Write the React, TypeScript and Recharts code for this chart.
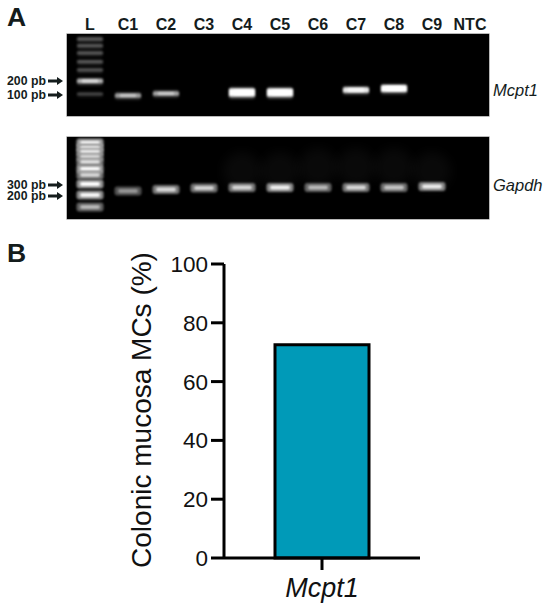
import React from "react";
import { ScatterChart, Scatter, XAxis, YAxis, BarChart, Bar } from "recharts";

const FONT = "'Liberation Sans', Arial, sans-serif";
const INK = "#141c1c";

const lanes = ["L", "C1", "C2", "C3", "C4", "C5", "C6", "C7", "C8", "C9", "NTC"];

const mcpt1Lanes = [1, 2, 4, 5, 7, 8];
const mcpt1Migration = [61.5, 59.5, 58.5, 58.5, 56, 54.5];
const mcpt1Brightness = [0.4, 0.42, 1, 1, 0.62, 0.8];
const mcpt1Ladder = [5, 11.7, 19, 27.7, 36, 47, 60];
const mcpt1LadderBrightness = [0.2, 0.18, 0.18, 0.18, 0.16, 0.45, 0.12];
const mcpt1MarkerAt = [47, 61];
const mcpt1MarkerText = ["200 pb", "100 pb"];

const gapdhLanes = [1, 2, 3, 4, 5, 6, 7, 8, 9];
const gapdhMigration = [54, 52.5, 51, 50.5, 50.5, 50.5, 50.5, 50.5, 49.5];
const gapdhBrightness = [0.25, 0.6, 0.55, 0.58, 0.75, 0.42, 0.6, 0.48, 0.72];
const gapdhLadder = [6, 11, 15, 20, 25, 32, 38, 47, 58, 70];
const gapdhLadderBrightness = [1, 0.9, 0.75, 0.6, 0.6, 1, 0.55, 0.85, 0.8, 0.4];
const gapdhHazeLanes = [4, 5, 6, 7, 8, 9];
const gapdhHazeAt = [34, 34, 30, 30, 30, 34];
const gapdhMarkerAt = [48, 59];
const gapdhMarkerText = ["300 pb", "200 pb"];

const barCategories = ["Mcpt1"];
const barValues = [72.5];
const yTicks = [0, 20, 40, 60, 80, 100];

const zip = (xs: number[], ys: number[], bs: number[]) =>
  xs.map((x, i) => ({ lane: x, migration: ys[i], brightness: bs[i] }));

const Band = (props: any) => {
  const { cx, cy, payload } = props;
  const b = payload.brightness;
  const w = 26;
  const h = 1.8 + 6.2 * b;
  const grey = Math.round(95 + 160 * Math.min(1, b * 1.4));
  return (
    <g>
      <rect x={cx - w / 2} y={cy - h / 2 - 1} width={w} height={h + 3} rx={2}
        fill="#fff" opacity={0.3 * (b + 0.2)} style={{ filter: "blur(1.6px)" }} />
      <rect x={cx - w / 2} y={cy - h / 2} width={w} height={h} rx={1.5}
        fill={`rgb(${grey},${grey},${grey})`} opacity={Math.min(1, 0.4 + b)} style={{ filter: "blur(0.9px)" }} />
      {b > 0.35 && (
        <rect x={cx - w * 0.32} y={cy - h * 0.25} width={w * 0.64} height={h * 0.5} rx={1}
          fill="#fff" opacity={Math.min(1, b + 0.2)} style={{ filter: "blur(1px)" }} />
      )}
    </g>
  );
};

const SoftBand = (props: any) => {
  const { cx, cy, payload } = props;
  const b = payload.brightness;
  return (
    <g>
      <rect x={cx - 13.5} y={cy - 4.5} width={27} height={9} rx={3}
        fill="#9a9a9a" opacity={0.35 + 0.7 * b} style={{ filter: "blur(1.3px)" }} />
      <rect x={cx - 10} y={cy - 2} width={20} height={4} rx={2}
        fill="#fff" opacity={Math.min(1, b + 0.15)} style={{ filter: "blur(1.2px)" }} />
    </g>
  );
};

const Haze = (props: any) => (
  <ellipse cx={props.cx} cy={props.cy} rx={19} ry={19} fill="#fff" opacity={0.035} style={{ filter: "blur(6px)" }} />
);

const MarkerTick = (labels: number[], texts: string[]) => (props: any) => {
  const { y, payload } = props;
  const t = texts[labels.indexOf(payload.value)];
  return (
    <g>
      <text x={7} y={y + 4.3} fontFamily={FONT} fontSize={12.3} fontWeight={700} fill={INK}>{t}</text>
      <path d={`M48 ${y - 1.6}H57V${y - 4}L63 ${y}L57 ${y + 4}V${y + 1.6}H48Z`} fill={INK} />
    </g>
  );
};

const Gel = (p: { top: number; lanesOn: boolean; bands: any[]; ladder: any[]; haze?: any[]; at: number[]; text: string[]; name: string; nameY: number; bandShape: any }) => (
  <>
    <div style={{ position: "absolute", left: 67, top: p.top + 34, width: 422, height: 82, background: "#000", boxShadow: "0 0 0 0.6px #8a8a8a" }} />
    <div style={{ position: "absolute", left: 0, top: p.top }}>
      <ScatterChart width={550} height={120} margin={{ top: p.lanesOn ? 0 : 34, right: 61, bottom: 4, left: 0 }}>
        <XAxis type="number" dataKey="lane" orientation="top" height={34} domain={[-0.5, 10.5]}
          ticks={lanes.map((_, i) => i)} interval={0} hide={!p.lanesOn} axisLine={false} tickLine={false}
          tick={(t: any) => (
            <text x={t.x} y={30} textAnchor="middle" fontFamily={FONT} fontSize={16} fontWeight={700} fill={INK}>
              {lanes[t.payload.value]}
            </text>
          )} />
        <YAxis type="number" dataKey="migration" width={71} domain={[0, 82]} reversed ticks={p.at} interval={0}
          axisLine={false} tickLine={false} tick={MarkerTick(p.at, p.text)} />
        {p.haze && <Scatter data={p.haze} isAnimationActive={false} shape={Haze} />}
        <Scatter data={p.ladder} isAnimationActive={false} shape={p.bandShape} />
        <Scatter data={p.bands} isAnimationActive={false} shape={p.bandShape} />
      </ScatterChart>
    </div>
    <div style={{ position: "absolute", left: 493, top: p.nameY, fontFamily: FONT, fontStyle: "italic", fontSize: 16.5, lineHeight: "20px", color: INK }}>{p.name}</div>
  </>
);

const barData = barCategories.map((c, i) => ({ category: c, value: barValues[i] }));

export default function App() {
  return (
    <div style={{ position: "absolute", left: 0, top: 0, width: 550, height: 614, background: "#fff", overflow: "hidden" }}>
      <div style={{ position: "absolute", left: 0, top: 0 }}>
        <BarChart width={550} height={614} data={barData} margin={{ top: 264, right: 130, bottom: 0, left: 0 }}>
          <XAxis dataKey="category" height={56} stroke="#000" strokeWidth={3} tickSize={12} tickMargin={8}
            tick={{ fontFamily: FONT, fontSize: 27, fontStyle: "italic", fill: "#111" }} />
          <YAxis width={224} domain={[0, 100]} ticks={yTicks} interval={0} stroke="#000" strokeWidth={3} tickSize={13} tickMargin={3}
            tick={{ fontFamily: FONT, fontSize: 22.5, fill: "#111" }}
            label={{
              content: () => (
                <text transform="translate(151,410) rotate(-90)" textAnchor="middle" fontFamily={FONT} fontSize={28} fill="#111">
                  Colonic mucosa MCs (%)
                </text>
              ),
            }} />
          <Bar dataKey="value" barSize={94} fill="#009ab8" stroke="#000" strokeWidth={3} isAnimationActive={false} />
        </BarChart>
      </div>
      <Gel top={0} lanesOn bandShape={Band} bands={zip(mcpt1Lanes, mcpt1Migration, mcpt1Brightness)}
        ladder={mcpt1Ladder.map((m, i) => ({ lane: 0, migration: m, brightness: mcpt1LadderBrightness[i] }))}
        at={mcpt1MarkerAt} text={mcpt1MarkerText} name="Mcpt1" nameY={80} />
      <Gel top={103} lanesOn={false} bandShape={SoftBand} bands={zip(gapdhLanes, gapdhMigration, gapdhBrightness)}
        haze={gapdhHazeLanes.map((l, i) => ({ lane: l, migration: gapdhHazeAt[i] }))}
        ladder={gapdhLadder.map((m, i) => ({ lane: 0, migration: m, brightness: gapdhLadderBrightness[i] }))}
        at={gapdhMarkerAt} text={gapdhMarkerText} name="Gapdh" nameY={175} />
      <div style={{ position: "absolute", left: 7, top: 2, fontFamily: FONT, fontWeight: 700, fontSize: 26.5, lineHeight: "30px", color: INK }}>A</div>
      <div style={{ position: "absolute", left: 7, top: 238, fontFamily: FONT, fontWeight: 700, fontSize: 26.5, lineHeight: "30px", color: INK }}>B</div>
    </div>
  );
}
